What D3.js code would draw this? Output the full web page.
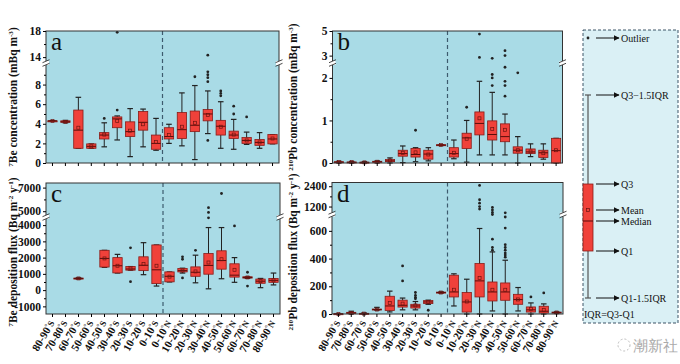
<!DOCTYPE html>
<html>
<head>
<meta charset="utf-8">
<script src="https://cdn.jsdelivr.net/npm/d3@7"></script>
<style>
body { margin: 0; background: #fff; }
svg text { font-family: "Liberation Serif", "Times New Roman", serif; fill: #111; }
.yaxis text { font-weight: bold; font-size: 11.5px; }
.xaxis text { font-weight: bold; font-size: 11px; }
</style>
</head>
<body>
<div id="chart"></div>
<script>
(function () {

var categories = ["80-90°S", "70-80°S", "60-70°S", "50-60°S", "40-50°S", "30-40°S", "20-30°S", "10-20°S", "0-10°S",
                  "0-10°N", "10-20°N", "20-30°N", "30-40°N", "40-50°N", "50-60°N", "60-70°N", "70-80°N", "80-90°N"];

// each box: [lower whisker, Q1, median, Q3, upper whisker, mean]
var beConcBoxes = [
  [4.3, 4.3, 4.3, 4.3, 4.3, 4.3], [4.1, 4.15, 4.2, 4.3, 4.35, 4.2], [1.5, 1.5, 3.35, 5.4, 6.7, 3.6],
  [1.5, 1.5, 1.7, 1.95, 1.95, 1.7], [1.65, 2.45, 2.85, 3.1, 4.1, 2.9], [2.35, 3.6, 4.5, 4.7, 4.8, 4.3],
  [0.65, 2.7, 3.2, 4.2, 5.55, 3.3], [1.65, 3.35, 4.15, 5.25, 5.5, 3.95], [1.3, 1.4, 2.0, 2.85, 4.55, 2.15],
  [2.0, 2.45, 2.7, 3.6, 3.95, 2.85], [1.75, 2.5, 3.4, 5.15, 7.15, 3.7], [0.35, 3.2, 3.85, 5.3, 7.9, 4.1],
  [3.0, 4.3, 5.0, 5.45, 7.35, 4.9], [1.5, 2.85, 3.75, 4.35, 6.25, 3.7], [1.4, 2.5, 2.85, 3.25, 4.45, 2.9],
  [1.9, 2.0, 2.3, 2.6, 3.15, 2.3], [1.5, 1.8, 2.1, 2.4, 3.1, 2.1], [1.95, 1.95, 2.45, 2.9, 2.9, 2.5]
];
var beConcOutliers = [[], [], [], [], [4.55], [5.4, 17.8], [], [], [], [], [], [8.8],
  [14.3, 9.3, 9.0, 8.7, 8.3, 2.3], [7.35, 7.1, 6.85], [5.8, 5.0], [4.7], [], []];

var pbConcBoxes = [
  [0, 0.01, 0.02, 0.03, 0.04, 0.02], [0, 0.01, 0.015, 0.025, 0.035, 0.02], [0, 0.01, 0.015, 0.02, 0.03, 0.015],
  [0, 0.02, 0.03, 0.04, 0.05, 0.03], [0, 0.03, 0.05, 0.08, 0.12, 0.06], [0.01, 0.16, 0.22, 0.30, 0.40, 0.24],
  [0.03, 0.14, 0.2, 0.34, 0.36, 0.25], [0.05, 0.09, 0.21, 0.30, 0.36, 0.2], [0.41, 0.41, 0.42, 0.43, 0.43, 0.42],
  [0.1, 0.14, 0.22, 0.36, 0.54, 0.24], [0.02, 0.34, 0.59, 0.70, 1.0, 0.57], [0.19, 0.66, 0.93, 1.2, 1.92, 1.05],
  [0.19, 0.54, 0.67, 0.99, 1.66, 0.8], [0.19, 0.5, 0.62, 0.92, 1.15, 0.78], [0, 0.23, 0.30, 0.38, 0.62, 0.3],
  [0.15, 0.22, 0.26, 0.33, 0.45, 0.27], [0.09, 0.13, 0.24, 0.30, 0.45, 0.23], [0, 0, 0.29, 0.58, 0.58, 0.3]
];
var pbConcOutliers = [[], [], [], [], [], [], [0.77], [], [], [], [1.31], [4.75, 2.85],
  [2.78, 2.08, 2.0, 1.82], [3.4, 3.0, 2.25, 1.92, 1.82, 1.57], [2.12], [], [], []];

var beFluxBoxes = [
  null, null, [680, 690, 720, 740, 760, 720], null, [1400, 1420, 1950, 2450, 2450, 1950],
  [1050, 1060, 1500, 2000, 2200, 1500], [1230, 1230, 1300, 1450, 1450, 1330], [950, 1200, 1530, 2050, 2920, 1600],
  [250, 400, 1250, 2780, 2780, 1500], [500, 510, 850, 1120, 1120, 830], [1050, 1120, 1200, 1330, 1350, 1200],
  [450, 850, 1100, 1430, 2150, 1150], [80, 980, 1520, 2250, 3850, 1700], [700, 1290, 1820, 2420, 3850, 1900],
  [480, 800, 920, 1620, 2000, 1250], [720, 740, 780, 820, 820, 780], [150, 420, 550, 680, 720, 550],
  [320, 480, 600, 720, 1050, 600]
];
var beFluxOutliers = [[], [], [], [], [], [], [2600, 520], [], [], [], [2050, 1900, 750], [2450],
  [5300, 4900, 4450], [6500], [3950], [1100, 250], [], []];

var pbFluxBoxes = [
  [0, 0, 1, 2, 3, 1], [0, 4, 8, 12, 20, 8], [0, 1, 3, 5, 8, 3], [28, 30, 32, 36, 48, 32],
  [15, 25, 58, 128, 165, 80], [30, 50, 63, 100, 115, 75], [30, 43, 58, 70, 90, 62], [70, 75, 87, 97, 100, 86],
  [150, 152, 155, 158, 160, 155], [58, 123, 159, 280, 290, 175], [0, 14, 87, 155, 251, 90],
  [0, 123, 239, 364, 617, 260], [22, 94, 159, 231, 448, 175], [0, 99, 159, 224, 388, 175],
  [22, 70, 104, 142, 191, 105], [0, 14, 30, 51, 80, 35], [0, 7, 20, 56, 73, 30], [5, 8, 10, 14, 16, 11]
];
var pbFluxOutliers = [[], [], [], [], [], [347, 239], [155, 135, 120, 110], [27], [], [], [],
  [2450, 1600, 1400, 1200, 1050], [1150, 1000, 850, 720, 540, 480, 460],
  [830, 700, 620, 500, 480, 460, 440, 425, 410], [], [123], [152], []];

var beConcTicks = [0, 2, 4, 6, 8, 14, 18];
var pbConcTicks = [0, 1, 2, 3, 5];
var beFluxTicks = [-1000, 0, 1000, 2000, 3000, 4000, 5000, 7000];
var pbFluxTicks = [0, 200, 400, 600, 1200, 2400];

var legendLabels = ["Outlier", "Q3\u22121.5IQR", "Q3", "Mean", "Median", "Q1", "Q1-1.5IQR"];

var bg = "#a9dbe6",
    boxFill = "#f0413a",
    boxLine = "#8a1c18",
    ink = "#222";

var svg = d3.select("#chart").append("svg")
    .attr("width", 680)
    .attr("height", 364);

svg.append("defs").append("marker")
    .attr("id", "arrow")
    .attr("viewBox", "0 0 10 10")
    .attr("refX", 9).attr("refY", 5)
    .attr("markerWidth", 6).attr("markerHeight", 6)
    .attr("orient", "auto")
  .append("path")
    .attr("d", "M0,0L10,5L0,10z")
    .attr("fill", "#111");

// text with small raised pieces, parts = [[text, isSup], ...]
function richText (sel, parts, size) {
  var raised = false;
  parts.forEach(function (p) {
    var t = sel.append("tspan").text(p[0]);
    if (p[1] && !raised) { t.attr("font-size", size * 0.62).attr("dy", -size * 0.38); raised = true; }
    else if (!p[1] && raised) { t.attr("dy", size * 0.38); raised = false; }
    else if (p[1]) { t.attr("font-size", size * 0.62); }
  });
}

function drawPanel (p) {

  var x = d3.scaleBand().domain(categories).range([p.left, p.right]);
  var step = x.bandwidth(),
      bw = step * 0.72;
  var cx = function (c) { return x(c) + step / 2; };

  var y = d3.scaleLinear()
      .domain(p.domain)
      .range([p.bottom, p.brk, p.brk, p.top]);

  var g = svg.append("g");

  g.append("rect")
      .attr("x", p.left).attr("y", p.top)
      .attr("width", p.right - p.left).attr("height", p.bottom - p.top)
      .attr("fill", bg);

  // equator
  g.append("line")
      .attr("x1", x(categories[9])).attr("x2", x(categories[9]))
      .attr("y1", p.top).attr("y2", p.bottom)
      .attr("stroke", "#3d5b6e").attr("stroke-width", 1.2)
      .attr("stroke-dasharray", "4,3");

  var rows = p.boxes.map(function (b, i) {
    return b ? {cat: categories[i], lo: b[0], q1: b[1], med: b[2], q3: b[3], hi: b[4], mean: b[5]} : null;
  }).filter(Boolean);

  var box = g.selectAll(".box").data(rows).enter()
      .append("g").attr("class", "box");

  box.append("line")
      .attr("x1", function (d) { return cx(d.cat); })
      .attr("x2", function (d) { return cx(d.cat); })
      .attr("y1", function (d) { return y(d.hi); })
      .attr("y2", function (d) { return y(d.lo); })
      .attr("stroke", ink).attr("stroke-width", 1);

  box.selectAll(".cap")
      .data(function (d) { return [d.lo, d.hi].map(function (v) { return {cat: d.cat, v: v}; }); })
      .enter().append("line")
      .attr("x1", function (d) { return cx(d.cat) - bw * 0.3; })
      .attr("x2", function (d) { return cx(d.cat) + bw * 0.3; })
      .attr("y1", function (d) { return y(d.v); })
      .attr("y2", function (d) { return y(d.v); })
      .attr("stroke", ink).attr("stroke-width", 1.2);

  box.append("rect")
      .attr("x", function (d) { return cx(d.cat) - bw / 2; })
      .attr("width", bw)
      .attr("y", function (d) { return y(d.q3); })
      .attr("height", function (d) { return Math.max(1, y(d.q1) - y(d.q3)); })
      .attr("fill", boxFill)
      .attr("stroke", boxLine).attr("stroke-width", 0.8);

  box.append("line")
      .attr("x1", function (d) { return cx(d.cat) - bw / 2; })
      .attr("x2", function (d) { return cx(d.cat) + bw / 2; })
      .attr("y1", function (d) { return y(d.med); })
      .attr("y2", function (d) { return y(d.med); })
      .attr("stroke", "#5a0d0a").attr("stroke-width", 1);

  box.append("rect")
      .attr("x", function (d) { return cx(d.cat) - 1.5; })
      .attr("y", function (d) { return y(d.mean) - 1.5; })
      .attr("width", 3).attr("height", 3)
      .attr("fill", "none")
      .attr("stroke", "#6b1410").attr("stroke-width", 0.7);

  var pts = [];
  p.outliers.forEach(function (list, i) {
    list.forEach(function (v) { pts.push({cat: categories[i], v: v}); });
  });

  g.selectAll(".out").data(pts).enter()
      .append("circle")
      .attr("cx", function (d) { return cx(d.cat); })
      .attr("cy", function (d) { return y(d.v); })
      .attr("r", 1.4)
      .attr("fill", ink);

  // frame
  g.append("rect")
      .attr("x", p.left).attr("y", p.top)
      .attr("width", p.right - p.left).attr("height", p.bottom - p.top)
      .attr("fill", "none").attr("stroke", "#333").attr("stroke-width", 1);

  var yAxis = g.append("g")
      .attr("class", "yaxis")
      .attr("transform", "translate(" + p.left + ",0)")
      .call(d3.axisLeft(y).tickValues(p.ticks).tickSize(3).tickPadding(2)
            .tickFormat(function (d) { return String(d); }));
  yAxis.select(".domain").remove();

  g.append("g")
      .attr("transform", "translate(" + p.left + ",0)")
      .call(d3.axisLeft(y).tickValues(p.minor).tickSize(2).tickFormat(""))
      .select(".domain").remove();

  var xAxis = g.append("g")
      .attr("class", "xaxis")
      .attr("transform", "translate(0," + p.bottom + ")")
      .call(d3.axisBottom(x).tickSize(3));
  xAxis.select(".domain").remove();

  if (p.showX) {
    xAxis.selectAll(".tick text").each(function (d) {
      var t = d3.select(this).text(null)
          .attr("x", 0).attr("y", 0).attr("dy", "0.35em")
          .attr("text-anchor", "end")
          .attr("transform", "translate(-1,7) rotate(-60)");
      t.append("tspan").text(d.slice(0, -2));
      t.append("tspan").text("°").attr("font-size", 7).attr("dy", -3);
      t.append("tspan").text(d.slice(-1)).attr("font-size", 9).attr("dy", 3);
    });
  } else {
    xAxis.selectAll(".tick text").remove();
  }

  // axis breaks
  [p.left, p.right].forEach(function (bx) {
    g.append("rect")
        .attr("x", bx - 3).attr("y", p.brk - 2)
        .attr("width", 6).attr("height", 4)
        .attr("fill", "#fff");
    [-1.8, 1.8].forEach(function (o) {
      g.append("line")
          .attr("x1", bx - 3.5).attr("x2", bx + 3.5)
          .attr("y1", p.brk + o + 1.5).attr("y2", p.brk + o - 1.5)
          .attr("stroke", "#333").attr("stroke-width", 0.9);
    });
  });

  g.append("text")
      .attr("x", p.left + 5).attr("y", p.top + 19)
      .attr("font-size", 25)
      .text(p.letter);

  var title = g.append("text")
      .attr("transform", "translate(" + p.titleX + "," + p.titleY + ") rotate(-90)")
      .attr("text-anchor", "middle")
      .attr("font-size", 11.5)
      .attr("font-weight", "bold");
  richText(title, p.title, 11.5);
}

drawPanel({
  boxes: beConcBoxes, outliers: beConcOutliers, ticks: beConcTicks, minor: [1, 3, 5, 7, 9, 16],
  left: 46, right: 279, top: 31, bottom: 163, brk: 63, domain: [0, 10.2, 13.1, 18],
  letter: "a", showX: false, titleX: 17, titleY: 97,
  title: [["7", 1], ["Be concentration (mBq m", 0], ["-3", 1], [")", 0]]
});

drawPanel({
  boxes: pbConcBoxes, outliers: pbConcOutliers, ticks: pbConcTicks, minor: [0.5, 1.5, 4],
  left: 332.5, right: 562.5, top: 31, bottom: 163, brk: 63, domain: [0, 2.35, 2.4, 5],
  letter: "b", showX: false, titleX: 297, titleY: 97,
  title: [["210", 1], ["Pb concentration (mBq m", 0], ["-3", 1], [")", 0]]
});

drawPanel({
  boxes: beFluxBoxes, outliers: beFluxOutliers, ticks: beFluxTicks, minor: [-500, 500, 1500, 2500, 3500, 6000],
  left: 46, right: 280, top: 183, bottom: 314, brk: 217, domain: [-1470, 4500, 4510, 7390],
  letter: "c", showX: true, titleX: 17, titleY: 252,
  title: [["7", 1], ["Be deposition flux (Bq m", 0], ["-2", 1], [" y", 0], ["-1", 1], [")", 0]]
});

drawPanel({
  boxes: pbFluxBoxes, outliers: pbFluxOutliers, ticks: pbFluxTicks, minor: [100, 300, 500, 1800],
  left: 332, right: 563, top: 182.5, bottom: 314, brk: 214.5, domain: [0, 718, 730, 2620],
  letter: "d", showX: true, titleX: 297, titleY: 252,
  title: [["210", 1], ["Pb deposition flux (Bq m", 0], ["-2", 1], [" y", 0], ["-1", 1], [")", 0]]
});

// legend (schematic box)
var lg = svg.append("g");

lg.append("rect")
    .attr("x", 583).attr("y", 30).attr("width", 95).attr("height", 293)
    .attr("fill", "#daf0f5")
    .attr("stroke", "#3d5566").attr("stroke-dasharray", "3,2");

var lx = 588,
    levels = [38, 95, 184, 210, 221, 251, 298];

lg.append("circle").attr("cx", lx).attr("cy", levels[0]).attr("r", 1.4).attr("fill", ink);
lg.append("line").attr("x1", lx).attr("x2", lx).attr("y1", levels[1]).attr("y2", levels[6])
    .attr("stroke", "#555").attr("stroke-width", 1.2);
[levels[1], levels[6]].forEach(function (v) {
  lg.append("line").attr("x1", lx - 3).attr("x2", lx + 3).attr("y1", v).attr("y2", v)
      .attr("stroke", "#555").attr("stroke-width", 1.2);
});
lg.append("rect").attr("x", lx - 5).attr("y", levels[2]).attr("width", 10).attr("height", levels[5] - levels[2])
    .attr("fill", boxFill).attr("stroke", boxLine).attr("stroke-width", 0.8);
lg.append("line").attr("x1", lx - 5).attr("x2", lx + 5).attr("y1", levels[4]).attr("y2", levels[4])
    .attr("stroke", "#5a0d0a");
lg.append("rect").attr("x", lx - 1.5).attr("y", levels[3] - 1.5).attr("width", 3).attr("height", 3)
    .attr("fill", "none").attr("stroke", "#6b1410").attr("stroke-width", 0.7);

legendLabels.forEach(function (label, i) {
  lg.append("line")
      .attr("x1", 596).attr("x2", 619)
      .attr("y1", levels[i]).attr("y2", levels[i])
      .attr("stroke", "#111").attr("stroke-width", 1)
      .attr("marker-end", "url(#arrow)");
  lg.append("text")
      .attr("x", 621).attr("y", levels[i]).attr("dy", "0.35em")
      .attr("font-size", 10)
      .text(label);
});

lg.append("text").attr("x", 584).attr("y", 314).attr("dy", "0.35em")
    .attr("font-size", 10).text("IQR=Q3-Q1");

// watermark
svg.append("circle").attr("cx", 624).attr("cy", 345).attr("r", 6)
    .attr("fill", "none").attr("stroke", "#bbb").attr("stroke-dasharray", "2,2");
svg.append("text").attr("x", 633).attr("y", 351)
    .attr("font-family", "Noto Sans CJK SC").attr("font-size", 15)
    .attr("fill", "#aaa").style("fill", "#aaa")
    .text("潮新社");

}).call(this);
</script>
</body>
</html>
